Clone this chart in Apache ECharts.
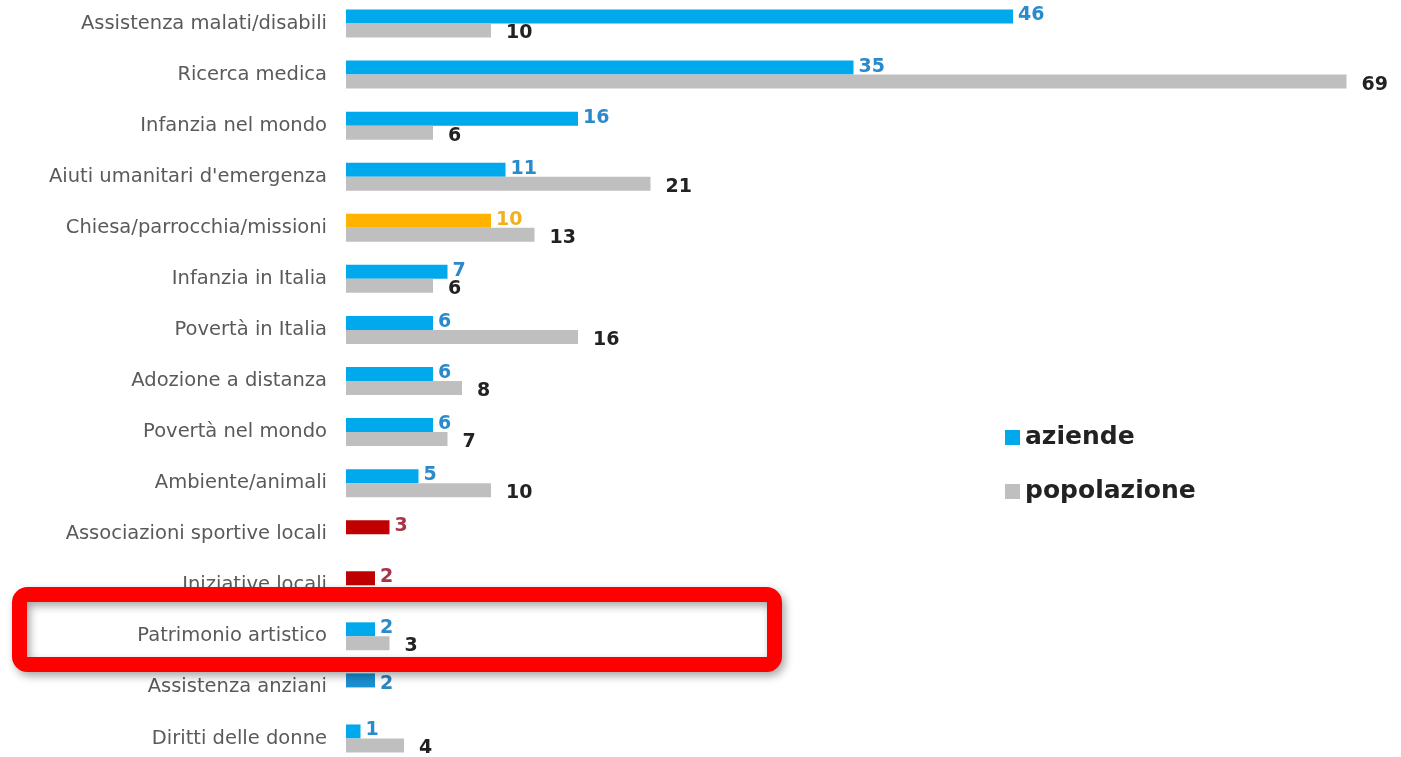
<!DOCTYPE html>
<html><head><meta charset="utf-8">
<script src="https://cdn.jsdelivr.net/npm/echarts@6/dist/echarts.min.js"></script>
<style>html,body{margin:0;padding:0;background:#fff;overflow:hidden}#c{position:absolute;left:0;top:-2px;width:1401px;height:766px}</style>
</head><body><div id="c"></div>
<script>
const categories = ['Assistenza malati/disabili','Ricerca medica','Infanzia nel mondo','Aiuti umanitari d\'emergenza','Chiesa/parrocchia/missioni','Infanzia in Italia','Povertà in Italia','Adozione a distanza','Povertà nel mondo','Ambiente/animali','Associazioni sportive locali','Iniziative locali','Patrimonio artistico','Assistenza anziani','Diritti delle donne'];
const aziende = [46,35,16,11,10,7,6,6,6,5,3,2,2,2,1];
const popolazione = [10,69,6,21,13,6,16,8,7,10,null,null,3,null,4];
const seriesNames = ['aziende','popolazione'];

const BLUE='#00A8EC', GRAY='#BFBFBF';
const special = {4:{bar:'#FFB300',label:'#F2B01E'},10:{bar:'#C00000',label:'#A8344A'},11:{bar:'#C00000',label:'#A8344A'},13:{bar:'#1A90D2',label:'#2A86BF',offset:[0,4]}};
const azData = aziende.map((v,i)=>{
  const s = special[i];
  if (!s) return v;
  const lab = {color:s.label};
  if (s.offset) lab.offset = s.offset;
  return {value:v,itemStyle:{color:s.bar},label:lab};
});
const chart = echarts.init(document.getElementById('c'));
chart.setOption({
  animation:false,
  grid:{left:346,right:40,top:0,bottom:0,containLabel:false},
  xAxis:{type:'value',min:0,max:70,show:false},
  yAxis:{type:'category',data:categories,inverse:true,
    axisLine:{show:false},axisTick:{show:false},splitLine:{show:false},
    axisLabel:{margin:19,padding:[4,0,0,0],fontFamily:'DejaVu Sans',fontSize:19.5,color:'#5a5a5a'}},
  legend:{orient:'vertical',left:1000,top:422,itemWidth:15,itemHeight:15,itemGap:29,icon:'rect',
    textStyle:{fontFamily:'DejaVu Sans',fontWeight:'bold',fontSize:25,color:'#222'},data:seriesNames},
  series:[
    {name:seriesNames[0],type:'bar',data:azData,barWidth:14,barGap:'0%',itemStyle:{color:BLUE},
     label:{show:true,position:'right',distance:5,offset:[0,-1],fontFamily:'DejaVu Sans',fontWeight:'bold',fontSize:19,color:'#2A8ACB'}},
    {name:seriesNames[1],type:'bar',data:popolazione,barWidth:14,itemStyle:{color:GRAY},
     label:{show:true,position:'right',distance:15,offset:[0,3],fontFamily:'DejaVu Sans',fontWeight:'bold',fontSize:19,color:'#222'}}
  ],
  graphic:[{type:'rect',z:100,shape:{x:19.5,y:596.5,width:755,height:70,r:8},
    style:{fill:null,stroke:'#FF0000',lineWidth:15,shadowBlur:8,shadowOffsetX:3,shadowOffsetY:4,shadowColor:'rgba(0,0,0,0.35)'}}]
});
</script></body></html>
